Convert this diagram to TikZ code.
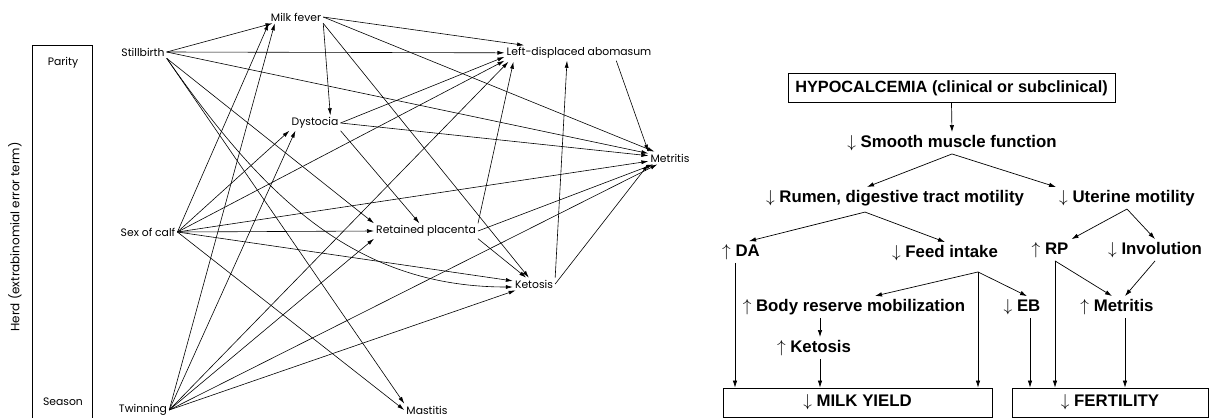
\documentclass[tikz,border=0pt]{standalone}
\usepackage{fontspec}
\setmainfont{Liberation Sans}
\newfontfamily\pathfont{Poppins}
\usetikzlibrary{positioning, calc, arrows.meta}

\tikzset{
  var/.style={font=\pathfont\fontsize{10.8}{12}\selectfont, inner sep=2pt},
  path arrow/.style={-{Latex[length=7pt,width=4pt]}, line width=0.6pt},
  fact/.style={font=\bfseries\fontsize{16.8}{19}\selectfont, inner sep=3pt},
  factbox/.style={fact, draw, line width=0.8pt, minimum height=29pt},
  fact arrow/.style={-{Latex[length=7pt,width=4.5pt]}, line width=0.7pt},
}

\begin{document}
\begin{tikzpicture}[x=1pt, y=-1pt]
    \useasboundingbox (0,0) rectangle (1209,418);
    % path model (left)
    \draw[line width=0.7pt] (32,418) -- (32,45) -- (92,45) -- (92,418);
    \node[var] (parity) at (63,63) {Parity};
    \node[var] (season) at (63,402) {Season};
    \node[var, rotate=90, font=\pathfont\fontsize{12}{14}\selectfont] (herd) at (15,237) {Herd (extrabinomial error term)};

    \node[var] (stillbirth) at (143,52) {Stillbirth};
    \node[var] (milkfever) at (296,17) {Milk fever};
    \node[var] (dystocia) at (315,123) {Dystocia};
    \node[var] (sexcalf) at (148,232) {Sex of calf};
    \node[var] (twinning) at (143,410) {Twinning};
    \node[var] (placenta) at (426,231) {Retained placenta};
    \node[var] (ketosis) at (534,284) {Ketosis};
    \node[var] (mastitis) at (427,410) {Mastitis};
    \node[var] (lda) at (579,53) {Left-displaced abomasum};
    \node[var] (metritis) at (670,158) {Metritis};

    \coordinate (lda1) at ($(lda.west)!0.5!(lda.south west)$);
    \coordinate (lda2) at ($(lda.south west)+(4,1)$);
    \coordinate (lda3) at ($(lda.south west)+(9,1)$);
    \coordinate (lda4) at ($(lda.south)+(-12,0)$);
    \coordinate (ldafoot) at ($(lda.south)!0.5!(lda.south east)$);
    \coordinate (dys1) at ($(dystocia.north)!0.6!(dystocia.north east)$);
    \coordinate (dys2) at ($(dystocia.south west)+(6,0)$);
    \coordinate (mf2) at ($(milkfever.south west)+(6,0)$);
    \coordinate (keto2) at ($(ketosis.west)+(0,3)$);

    \foreach \a/\b in {stillbirth.east/milkfever, stillbirth.east/lda, stillbirth.east/metritis,
        stillbirth.south east/placenta.north west, stillbirth.south east/mastitis.north west,
        milkfever.south east/dys1, milkfever.east/lda, milkfever.east/metritis, milkfever.south east/ketosis,
        dystocia.east/lda1, dystocia.east/metritis, dystocia.south east/placenta,
        sexcalf.east/milkfever.south west, sexcalf.east/dystocia.south west, sexcalf.east/lda.south west,
        sexcalf.east/metritis, sexcalf.east/placenta.west, sexcalf.east/ketosis, sexcalf.east/mastitis.west,
        twinning.east/mf2, twinning.east/dys2, twinning.east/lda2, twinning.east/metritis,
        twinning.east/placenta.south west, twinning.east/ketosis,
        placenta.north east/lda3, placenta.east/metritis, placenta.south east/ketosis,
        ketosis.north east/lda4, ketosis.east/metritis.south west, ldafoot/metritis.north west}{
    \draw[path arrow] (\a) -- (\b);
    }
    \draw[path arrow] (stillbirth.south east) to[out=-55, in=180] (keto2);

    % hypocalcemia chart (right)
    \node[factbox, minimum width=327pt, font=\bfseries\fontsize{16.3}{19}\selectfont] (hypo) at (951.5,88) {HYPOCALCEMIA (clinical or subclinical)};
    \node[fact] (smooth) at (952,143) {$\downarrow$\ Smooth muscle function};
    \node[fact] (rumen) at (895,198) {$\downarrow$\ Rumen, digestive tract motility};
    \node[fact] (uterine) at (1127,198) {$\downarrow$\ Uterine motility};
    \node[fact] (da) at (741,252) {$\uparrow$\ DA};
    \node[fact] (feed) at (945,253) {$\downarrow$\ Feed intake};
    \node[fact] (rp) at (1050,250) {$\uparrow$\ RP};
    \node[fact] (invol) at (1155,250) {$\downarrow$\ Involution};
    \node[fact] (body) at (854,307) {$\uparrow$\ Body reserve mobilization};
    \node[fact] (eb) at (1022,307) {$\downarrow$\ EB};
    \node[fact] (metr) at (1117,307) {$\uparrow$\ Metritis};
    \node[fact] (keto) at (814,348) {$\uparrow$\ Ketosis};
    \node[factbox, minimum width=269pt] (milk) at (857.5,402.5) {$\downarrow$\ MILK YIELD};
    \node[factbox, minimum width=196pt] (fert) at (1110,402.5) {$\downarrow$\ FERTILITY};

    \coordinate (rumenfork) at ($(rumen.south)+(-30,3)$);
    \coordinate (feedfork) at ($(feed.south)+(33,8)$);
    \coordinate (dafoot) at ($(da.south)+(-6,0)$);
    \coordinate (ketofoot) at ($(keto.south)+(6,0)$);
    \coordinate (ebfoot) at ($(eb.south)+(8,0)$);
    \coordinate (rpfoot) at ($(rp.south)+(5,0)$);
    \coordinate (metrfoot) at ($(metr.south)+(8,0)$);

    \draw[fact arrow] (hypo.south) -- (smooth.north);
    \draw[fact arrow] (smooth.south) -- ([xshift=-28pt]rumen.north);
    \draw[fact arrow] (smooth.south) -- (uterine.north west);
    \draw[fact arrow] (rumenfork) -- ([xshift=8pt]da.north);
    \draw[fact arrow] (rumenfork) -- (feed.north);
    \draw[fact arrow] (uterine.south) -- (rp.north east);
    \draw[fact arrow] (uterine.south) -- (invol.north);
    \draw[fact arrow] (feedfork) -- ([xshift=21pt]body.north);
    \draw[fact arrow] (feedfork) -- ([xshift=5pt]eb.north);
    \draw[fact arrow] (feedfork) -- (feedfork |- milk.north);
    \draw[fact arrow] ([xshift=-34pt]body.south) -- ([xshift=6pt]keto.north);
    \draw[fact arrow] (rpfoot) -- ([xshift=-5pt]metr.north);
    \draw[fact arrow] (invol.south) -- ([xshift=8pt]metr.north);
    \foreach \f/\b in {dafoot/milk, ketofoot/milk, ebfoot/fert, rpfoot/fert, metrfoot/fert}{
    \draw[fact arrow] (\f) -- (\f |- \b.north);
    }
\end{tikzpicture}
\end{document}
